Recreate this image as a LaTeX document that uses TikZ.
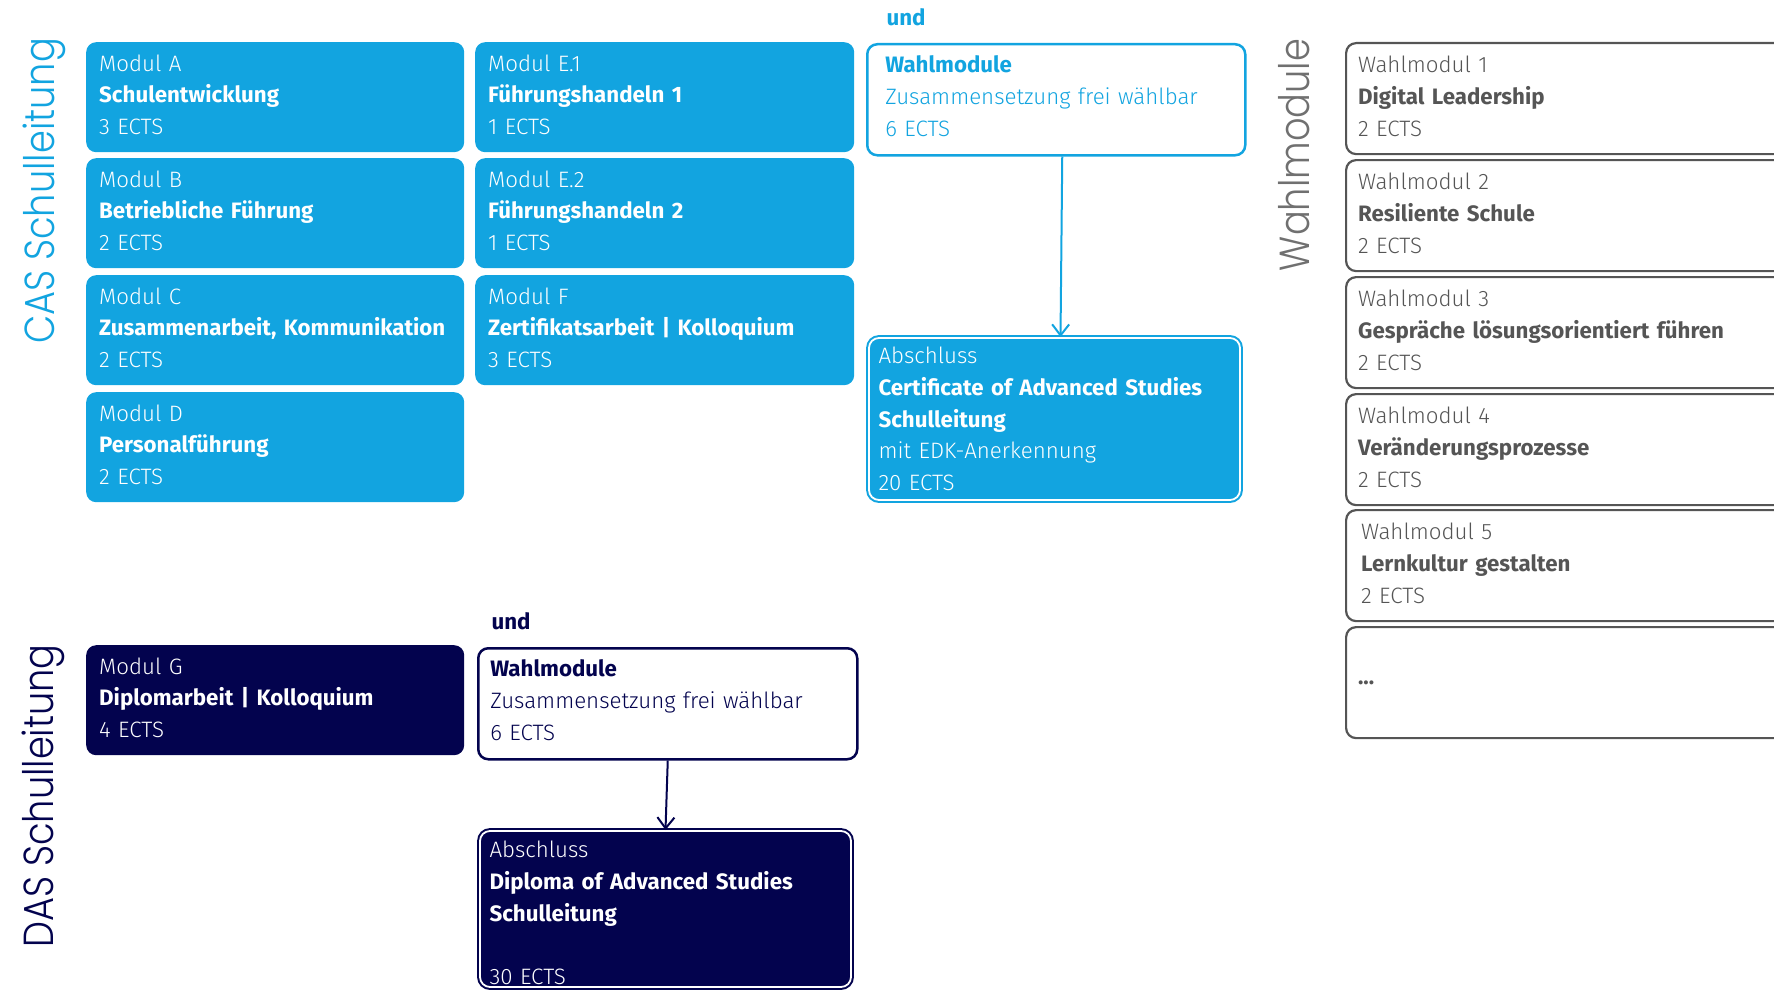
\documentclass[tikz,border=0pt]{standalone}
\usepackage{fontspec}
\setmainfont{Fira Sans}[UprightFont={* Light},BoldFont={* Bold}]
\newfontfamily\labelfont{Poppins Light}[FakeStretch=0.875]
\usetikzlibrary{arrows.meta,calc}
\definecolor{casblue}{RGB}{18,164,224}
\definecolor{navy}{RGB}{3,3,78}
\definecolor{wgray}{RGB}{85,85,85}
\definecolor{lgray}{RGB}{112,112,112}
\newcommand{\bodyfont}{\fontsize{22.3pt}{31.8pt}\selectfont}
\newcommand{\sidefont}{\labelfont\fontsize{42pt}{42pt}\selectfont}
\begin{document}
\begin{tikzpicture}[x=1pt,y=-1pt,
  basebox/.style={rounded corners=10pt, anchor=north west, align=left, inner xsep=13pt, inner ysep=0pt, font=\bodyfont, minimum height=110pt},
  box/.style={basebox, execute at end node={\rule[-5pt]{0pt}{0pt}}},
  cas/.style={box, fill=casblue, text=white, text width=352pt},
  casr/.style={box, fill=casblue, text=white, text width=353pt},
  das/.style={box, fill=navy, text=white, text width=352pt},
  wframe/.style={draw=wgray, line width=2.2pt, fill=white, text=wgray, inner xsep=12pt, text width=500pt, minimum height=111pt},
  wbox/.style={box, wframe},
  wahlc/.style={basebox, draw=casblue, line width=2.5pt, fill=white, text=casblue, inner xsep=18pt, text width=342pt, minimum height=111pt, execute at end node={\rule[-8pt]{0pt}{0pt}}},
  wahld/.style={basebox, draw=navy, line width=2.5pt, fill=white, text=navy, inner xsep=12pt, text width=355pt, minimum height=111pt, execute at end node={\rule[-8pt]{0pt}{0pt}}},
  absch/.style={basebox, draw=#1, fill=#1, double=white, double distance=1.8pt, line width=2pt, text=white, inner xsep=9.5pt, text width=352pt},
  side/.style={rotate=90, anchor=base, font=\sidefont},
  und/.style={anchor=base west, font=\bodyfont\bfseries},
  conn/.style={line width=2pt, -{Straight Barb[length=11pt,width=17pt,line width=2pt]}}
]
\useasboundingbox (0,0) rectangle (1774,990);
\clip (0,0) rectangle (1774,990);

% side labels
\node[side, text=casblue] (lcas) at (54,191) {CAS Schulleitung};
\node[side, text=navy] (ldas) at (53,796) {DAS Schulleitung};
\node[side, text=lgray] (lwahl) at (1309,155) {Wahlmodule};

% CAS modules
\node[cas] (A) at (86,42) {Modul A\\\textbf{Schulentwicklung}\\3 ECTS};
\node[cas] (B) at (86,158) {Modul B\\\textbf{Betriebliche Führung}\\2 ECTS};
\node[cas] (C) at (86,275) {Modul C\\\mbox{\textbf{Zusammenarbeit, Kommunikation}}\\2 ECTS};
\node[cas] (D) at (86,392) {Modul D\\\textbf{Personalführung}\\2 ECTS};
\node[casr] (E1) at (475,42) {Modul E.1\\\textbf{Führungshandeln 1}\\1 ECTS};
\node[casr] (E2) at (475,158) {Modul E.2\\\textbf{Führungshandeln 2}\\1 ECTS};
\node[casr] (F) at (475,275) {Modul F\\\textbf{Zertifikatsarbeit | Kolloquium}\\3 ECTS};

\node[und, text=casblue] (und1) at (883,26) {und};
\node[wahlc] (WC) at (866,43) {\textbf{Wahlmodule}\\Zusammensetzung frei wählbar\\6 ECTS};
\node[absch=casblue, minimum height=162pt] (AC) at (868,337) {Abschluss\\\mbox{\textbf{Certificate of Advanced Studies}}\\\textbf{Schulleitung}\\mit EDK-Anerkennung\\20 ECTS};
\draw[conn, casblue] ([xshift=6pt]WC.south) -- ([xshift=6pt]AC.north);

% Wahlmodule list
\node[wbox] (W1) at (1345,42) {Wahlmodul 1\\\textbf{Digital Leadership}\\2 ECTS};
\node[wbox] (W2) at (1345,159) {Wahlmodul 2\\\textbf{Resiliente Schule}\\2 ECTS};
\node[wbox] (W3) at (1345,276) {Wahlmodul 3\\\mbox{\textbf{Gespräche lösungsorientiert führen}}\\2 ECTS};
\node[wbox] (W4) at (1345,393) {Wahlmodul 4\\\textbf{Veränderungsprozesse}\\2 ECTS};
\node[wbox, inner xsep=15pt, text width=494pt] (W5) at (1345,509) {Wahlmodul 5\\\textbf{Lernkultur gestalten}\\2 ECTS};
\node[basebox, wframe] (W6) at (1345,626) {\textbf{...}};

% DAS
\node[und, text=navy] (und2) at (488,629) {und};
\node[das] (G) at (86,645) {Modul G\\\textbf{Diplomarbeit | Kolloquium}\\4 ECTS};
\node[wahld] (WD) at (477,647) {\textbf{Wahlmodule}\\Zusammensetzung frei wählbar\\6 ECTS};
\node[absch=navy, minimum height=156pt, execute at begin node={\rule{0pt}{25pt}}] (AD) at (479,830) {Abschluss\\\mbox{\textbf{Diploma of Advanced Studies}}\\\textbf{Schulleitung}\\\mbox{}\\30 ECTS};
\draw[conn, navy] (WD.south) -- (AD.north);
\end{tikzpicture}
\end{document}
